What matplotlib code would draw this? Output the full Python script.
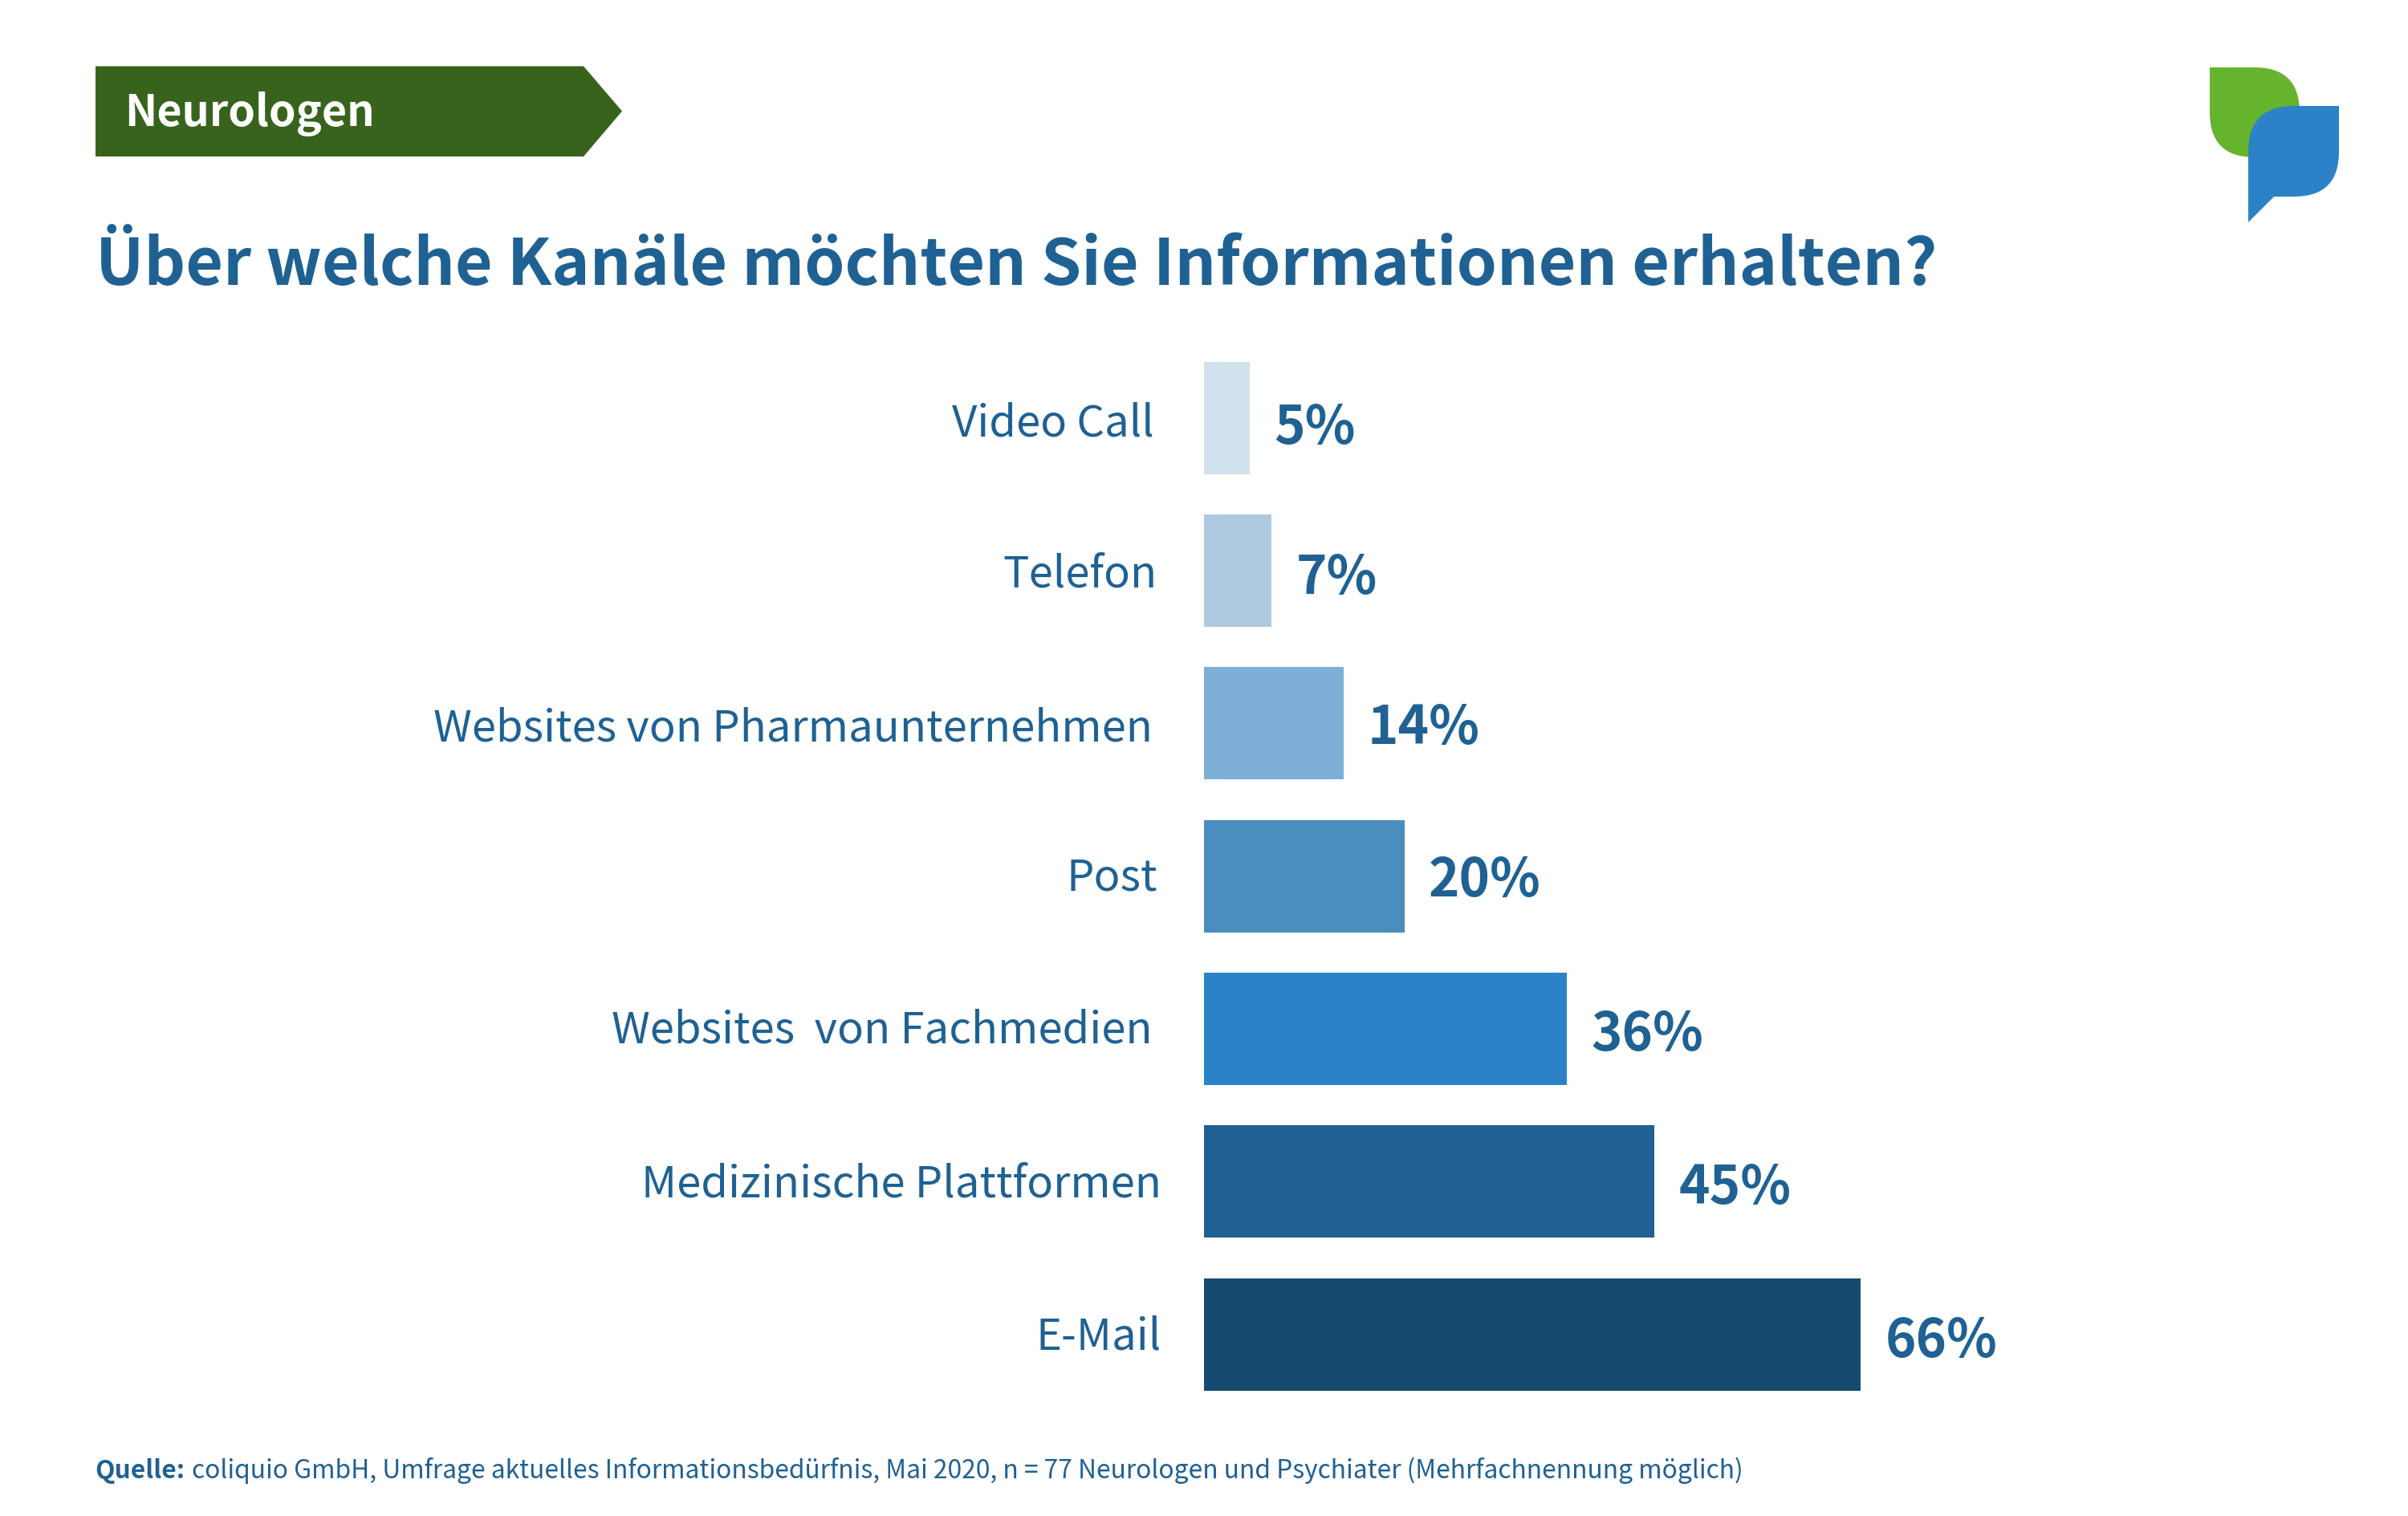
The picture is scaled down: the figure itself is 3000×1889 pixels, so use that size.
import matplotlib
matplotlib.use("Agg")
import matplotlib.pyplot as plt
from matplotlib.patches import PathPatch, Polygon
from matplotlib.path import Path

W, H = 3000, 1890

categories = ["Video Call", "Telefon", "Websites von Pharmaunternehmen", "Post",
              "Websites  von Fachmedien", "Medizinische Plattformen", "E-Mail"]
percent_labels = ["5%", "7%", "14%", "20%", "36%", "45%", "66%"]
bar_lengths = [4.6, 6.8, 14.0, 20.1, 36.4, 45.2, 65.9]
bar_colors = ["#D2E1EE", "#AEC9E0", "#7DAFD8", "#4A8DBF", "#2B82C6", "#1F6193", "#154A70"]
label_right_px = [1438, 1442, 1436, 1442, 1436, 1447, 1447]
label_baseline_px = [543, 731, 924, 1109, 1300, 1491, 1682]
percent_baseline_px = [553, 740, 927, 1117, 1309, 1500, 1691]

title = "Über welche Kanäle möchten Sie Informationen erhalten?"
banner = "Neurologen"
source_bold = "Quelle:"
source_text = "coliquio GmbH, Umfrage aktuelles Informationsbedürfnis, Mai 2020, n = 77 Neurologen und Psychiater (Mehrfachnennung möglich)"

BLUE = "#1F6193"
FONT = ["Noto Sans CJK JP", "DejaVu Sans"]
plt.rcParams["font.family"] = FONT

fig = plt.figure(figsize=(W / 200, H / 200), dpi=200, facecolor="white")

# full-figure pixel overlay for furniture
bg = fig.add_axes([0, 0, 1, 1])
bg.set_xlim(0, W)
bg.set_ylim(H, 0)
bg.axis("off")

bg.add_patch(Polygon([(119, 83.5), (727, 83.5), (775, 139.5), (727, 196), (119, 196)],
                     closed=True, fc="#38631C", ec="none"))
bg.text(155, 157, banner, color="white", fontsize=19.4, fontweight="bold", va="baseline", ha="left")
bg.text(119, 355, title, color=BLUE, fontsize=29, fontweight="bold", va="baseline", ha="left")

M, L, C, Z = Path.MOVETO, Path.LINETO, Path.CURVE3, Path.CLOSEPOLY
green_pts = [(2753, 85), (2809, 85), (2865, 85), (2865, 141), (2865, 197), (2809, 197),
             (2753, 197), (2753, 141), (2753, 85), (2753, 85)]
green_codes = [M, L, C, C, C, C, C, C, L, Z]
blue_pts = [(2914, 133), (2914, 190), (2914, 246), (2858, 246), (2833, 246), (2801, 278),
            (2801, 190), (2801, 133), (2858, 133), (2914, 133), (2914, 133)]
blue_codes = [M, L, C, C, L, L, L, C, C, L, Z]
bg.add_patch(PathPatch(Path(green_pts, green_codes), fc="#66B32E", ec="none"))
bg.add_patch(PathPatch(Path(blue_pts, blue_codes), fc="#2B82C6", ec="none"))

# bars
top_px, bottom_px = 451.5, 1733.5
ax = fig.add_axes([1500 / W, 1 - bottom_px / H, (2400 - 1500) / W, (bottom_px - top_px) / H])
ax.patch.set_alpha(0)
px_per_unit = (2319.5 - 1500) / 66.0
ax.set_xlim(0, 900 / px_per_unit)
n = len(categories)
pitch_px = (1662 - 520) / 6.0
bar_h = 140 / pitch_px
ax.set_ylim(n - 1 + bar_h / 2, -bar_h / 2)
ypos = list(range(n))
ax.barh(ypos, bar_lengths, height=bar_h, color=bar_colors, linewidth=0)
ax.axis("off")

gap_px = 30
for y, cat, lab, length, rp, lb, pb in zip(ypos, categories, percent_labels, bar_lengths,
                                           label_right_px, label_baseline_px, percent_baseline_px):
    bg.text(rp, lb, cat, color=BLUE, fontsize=19.6, va="baseline", ha="right")
    x_px = 1500 + length * px_per_unit + gap_px
    bg.text(x_px, pb, lab, color=BLUE, fontsize=23.5, fontweight="bold", va="baseline", ha="left")

# source
bg.text(118, 1842, source_bold, color=BLUE, fontsize=11.43, fontweight="bold", va="baseline", ha="left")
bg.text(239, 1842, source_text, color=BLUE, fontsize=11.43, va="baseline", ha="left")

fig.savefig("out.png", dpi=200, facecolor="white")
